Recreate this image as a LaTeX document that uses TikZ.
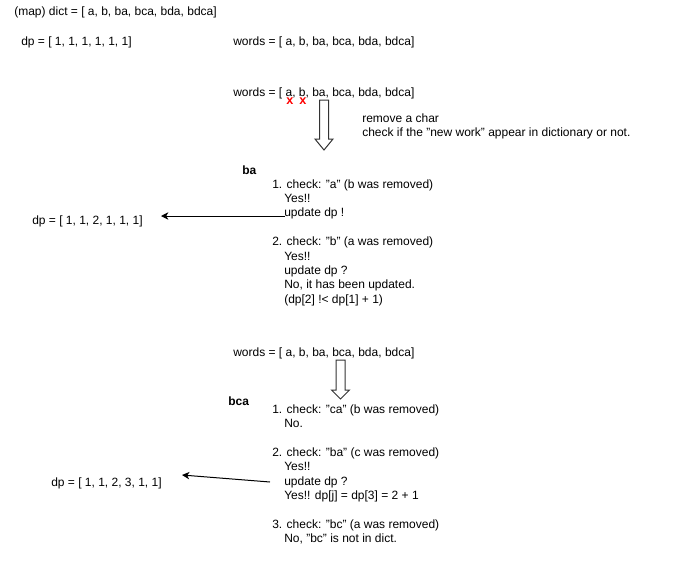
\documentclass[tikz,border=0pt]{standalone}
\usepackage{fontspec}
\setmainfont{Liberation Sans}
\usetikzlibrary{arrows.meta}
\newcommand{\ind}{\hspace*{9pt}}

\begin{document}
\begin{tikzpicture}[x=0.75pt,y=-0.75pt,
  txt/.style={inner sep=0pt,anchor=base west,font=\fontsize{9}{10.8}\selectfont},
  steps/.style={txt,align=left},
  head/.style={txt,font=\fontsize{9}{10.8}\selectfont\bfseries},
  cross/.style={inner sep=0pt,text=red,font=\fontsize{9.5}{10.8}\selectfont\bfseries},
  link/.style={-{Stealth[length=5.5pt,width=5.5pt,inset=1.6pt]},line width=0.75pt},
  fat/.style={draw=black!80,fill=white,line width=0.75pt,line join=miter}]
  \useasboundingbox (0,0) rectangle (681,571);

  % top line
  \node[txt] (dict) at (14,15) {(map) dict = [ a, b, ba, bca, bda, bdca]};
  \node[txt] (dp0) at (21,45) {dp = [ 1, 1, 1, 1, 1, 1]};
  \node[txt] (words0) at (233,45) {words = [ a, b, ba, bca, bda, bdca]};

  % ba (multi-line nodes sit on the baseline of their last line)
  \node[txt] (words1) at (233,96) {words = [ a, b, ba, bca, bda, bdca]};
  \node[cross] (xa) at (290,101.5) {x};
  \node[cross] (xb) at (303,101.5) {x};
  \draw[fat] (319.5,100) -- (328.5,100) -- (328.5,139) -- (333,139) -- (324,150)
    -- (315,139) -- (319.5,139) -- cycle;
  \node[steps] (note) at (362,136.4) {remove a char\\check if the "new work" appear in dictionary or not.};
  \node[head] (ba) at (242,174) {ba};
  \node[steps] (check1) at (272,303.2) {1. check: "a" (b was removed)\\
    \ind Yes!!\\
    \ind update dp !\\[10.8pt]
    2. check: "b" (a was removed)\\
    \ind Yes!!\\
    \ind update dp ?\\
    \ind No, it has been updated.\\
    \ind (dp[2] !< dp[1] + 1)};
  \node[txt] (dp1) at (32,224) {dp = [ 1, 1, 2, 1, 1, 1]};
  \coordinate (from1) at (285,216);
  \coordinate (to1) at (161,216);
  \draw[link] (from1) -- (to1);

  % bca
  \node[txt] (words2) at (233,356) {words = [ a, b, ba, bca, bda, bdca]};
  \draw[fat] (336,360) -- (345,360) -- (345,390) -- (349.5,390) -- (340.5,399)
    -- (331.5,390) -- (336,390) -- cycle;
  \node[head] (bca) at (228,405) {bca};
  \node[steps] (check2) at (272,542.6) {1. check: "ca" (b was removed)\\
    \ind No.\\[10.8pt]
    2. check: "ba" (c was removed)\\
    \ind Yes!!\\
    \ind update dp ?\\
    \ind Yes!! dp[j] = dp[3] = 2 + 1\\[10.8pt]
    3. check: "bc" (a was removed)\\
    \ind No, "bc" is not in dict.};
  \node[txt] (dp2) at (51,486) {dp = [ 1, 1, 2, 3, 1, 1]};
  \coordinate (from2) at (270,482);
  \coordinate (to2) at (182,475);
  \draw[link] (from2) -- (to2);
\end{tikzpicture}
\end{document}
